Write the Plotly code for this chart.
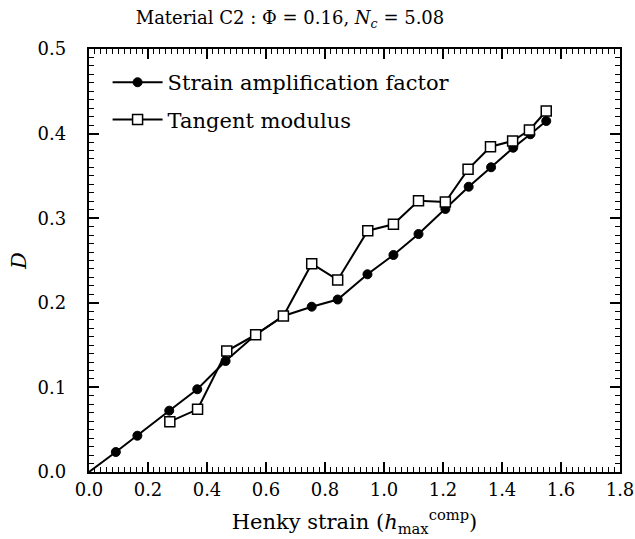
import plotly.graph_objects as go

# Data
saf_x = [0.0, 0.091, 0.164, 0.272, 0.367, 0.463, 0.565, 0.659, 0.755, 0.843, 0.944, 1.032, 1.117, 1.208, 1.287, 1.363, 1.438, 1.496, 1.550]
saf_y = [0.0, 0.0236, 0.0429, 0.0725, 0.0978, 0.1312, 0.1623, 0.1844, 0.1954, 0.2039, 0.2337, 0.2565, 0.2813, 0.3109, 0.3372, 0.3602, 0.3833, 0.3992, 0.4149]

tan_x = [0.274, 0.368, 0.467, 0.565, 0.659, 0.755, 0.843, 0.945, 1.032, 1.117, 1.208, 1.285, 1.361, 1.436, 1.493, 1.550]
tan_y = [0.0595, 0.0741, 0.1430, 0.1623, 0.1844, 0.2462, 0.2270, 0.2852, 0.2928, 0.3207, 0.3191, 0.3578, 0.3845, 0.3913, 0.4043, 0.4267]

FONT = "DejaVu Serif"
NB = "\u00a0"
X_RANGE = [0, 1.80001]
Y_RANGE = [0, 0.50001]

fig = go.Figure()
# line segment from the origin (no marker is drawn there in the reference)
fig.add_trace(go.Scatter(
    x=saf_x[:2], y=saf_y[:2], mode="lines", showlegend=False, hoverinfo="skip",
    line=dict(color="black", width=2),
))
fig.add_trace(go.Scatter(
    x=saf_x[1:], y=saf_y[1:], mode="lines+markers", name="Strain amplification factor",
    legendgroup="a",
    line=dict(color="black", width=2),
    marker=dict(symbol="circle", color="black", size=9, opacity=1,
                line=dict(color="black", width=1)),
))
fig.add_trace(go.Scatter(
    x=tan_x, y=tan_y, mode="lines+markers", name="Tangent modulus",
    legendgroup="b",
    line=dict(color="black", width=2),
    marker=dict(symbol="square", color="white", size=10, opacity=1,
                line=dict(color="black", width=1.5)),
))
# invisible trace that carries the overlaid minor-tick axes
fig.add_trace(go.Scatter(
    x=saf_x, y=saf_y, xaxis="x2", yaxis="y2", mode="lines", opacity=0,
    line=dict(width=0), showlegend=False, hoverinfo="skip",
))

axis_common = dict(
    showline=True, linecolor="black", linewidth=2, mirror="allticks",
    ticks="inside", ticklen=10, tickwidth=1.5, tickcolor="black",
    showgrid=False, zeroline=False, tickmode="linear", tick0=0,
    tickfont=dict(family=FONT, size=18, color="black"),
    tickformat=".1f", automargin=False,
)
minor_common = dict(
    showline=True, linecolor="black", linewidth=2, mirror="allticks",
    ticks="inside", ticklen=5, tickwidth=1,
    tickcolor="black", showgrid=False, zeroline=False, tickmode="linear", tick0=0,
    showticklabels=False, automargin=False,
)

fig.update_layout(
    xaxis=dict(
        range=X_RANGE, dtick=0.2,
        title=dict(text="Henky strain (<i>h</i><sub>max</sub><sup>comp</sup>)",
                   font=dict(family=FONT, size=21, color="black"), standoff=16),
        ticklabeloverflow="allow",
        **axis_common,
    ),
    yaxis=dict(
        range=Y_RANGE, dtick=0.1, ticksuffix=NB * 3,
        title=dict(text="<i>D</i>", font=dict(family=FONT, size=21, color="black"), standoff=5),
        **axis_common,
    ),
    xaxis2=dict(range=X_RANGE, dtick=0.02, overlaying="x", anchor="y2", side="bottom", **minor_common),
    yaxis2=dict(range=Y_RANGE, dtick=0.01, overlaying="y", anchor="x2", side="left", **minor_common),
)

fig.update_layout(
    width=635, height=539,
    margin=dict(l=89, r=15, t=49, b=67, autoexpand=False),
    paper_bgcolor="white", plot_bgcolor="white",
    title=dict(text="Material C2 : Φ = 0.16, <i>N</i><sub><i>c</i></sub> = 5.08",
               font=dict(family=FONT, size=18, color="black"),
               x=290 / 635, xanchor="center", xref="container", y=1 - 18 / 539, yanchor="middle"),
    legend=dict(x=0.035, y=0.969, xanchor="left", yanchor="top",
                font=dict(family=FONT, size=21, color="black"),
                bgcolor="rgba(0,0,0,0)", tracegroupgap=7, itemwidth=50),
    showlegend=True,
)

fig.write_html("out.html", config={"displayModeBar": False},
               post_script="document.body.style.margin='0';")
